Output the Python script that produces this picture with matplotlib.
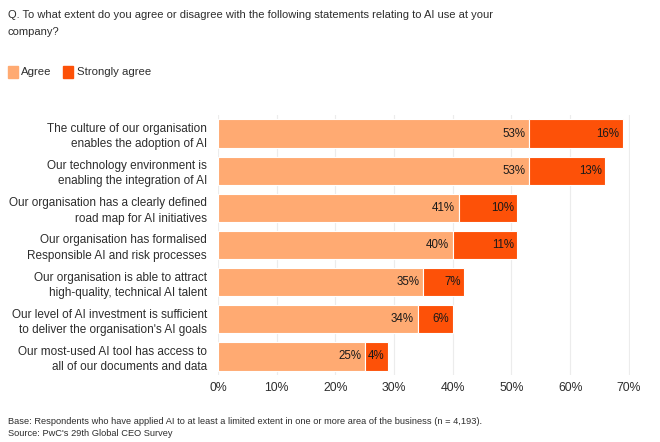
import matplotlib
matplotlib.use("Agg")
import matplotlib.pyplot as plt
from matplotlib.patches import Rectangle

plt.rcParams['font.family'] = ['Liberation Sans', 'DejaVu Sans']

# datos de la encuesta
statements = [
    "The culture of our organisation\nenables the adoption of AI",
    "Our technology environment is\nenabling the integration of AI",
    "Our organisation has a clearly defined\nroad map for AI initiatives",
    "Our organisation has formalised\nResponsible AI and risk processes",
    "Our organisation is able to attract\nhigh-quality, technical AI talent",
    "Our level of AI investment is sufficient\nto deliver the organisation's AI goals",
    "Our most-used AI tool has access to\nall of our documents and data",
]
agree = [53, 53, 41, 40, 35, 34, 25]
strongly_agree = [16, 13, 10, 11, 7, 6, 4]
x_ticks = [0, 10, 20, 30, 40, 50, 60, 70]

c_agree = "#FFAA72"
c_strong = "#FD5108"
txt = "#2d2d2d"

fig = plt.figure(figsize=(6.6, 4.42), dpi=100)
W, H = 660, 442

ax = fig.add_axes([218 / W, 1 - 375 / H, 412 / W, 260 / H])
y = list(range(len(statements)))

ax.barh(y, agree, height=0.76, color=c_agree, edgecolor="white", linewidth=0.8, zorder=2)
ax.barh(y, strongly_agree, left=agree, height=0.76, color=c_strong,
        edgecolor="white", linewidth=0.8, zorder=2)

for i in y:
    a, s = agree[i], strongly_agree[i]
    ax.text(a - 0.6, i, f"{a}%", ha="right", va="center", fontsize=8.3, color="#1a1a1a", zorder=3)
    ax.text(a + s - 0.6, i, f"{s}%", ha="right", va="center", fontsize=8.3, color="#1a1a1a", zorder=3)

ax.set_xlim(0, 70.2)
ax.set_ylim(6.5, -0.5)
ax.set_xticks(x_ticks)
ax.set_xticklabels([f"{t}%" for t in x_ticks], fontsize=8.8, color=txt)
ax.set_yticks(y)
ax.set_yticklabels(statements, fontsize=8.5, color=txt, linespacing=1.35)
ax.tick_params(length=0, axis="x", pad=5)
ax.tick_params(length=0, axis="y", pad=8)
ax.grid(axis="x", color="#ececec", linewidth=0.8, zorder=0)
for sp in ax.spines.values():
    sp.set_visible(False)

# título
fig.text(8 / W, 1 - 15 / H, "Q. To what extent do you agree or disagree with the following statements relating to AI use at your",
         fontsize=8, color=txt, va="center")
fig.text(8 / W, 1 - 32 / H, "company?", fontsize=8, color=txt, va="center")

# leyenda
fig.patches.append(Rectangle((8 / W, 1 - 78 / H), 10 / W, 12 / H, transform=fig.transFigure,
                             color=c_agree))
fig.text(21 / W, 1 - 72 / H, "Agree", fontsize=8.2, color=txt, va="center")
fig.patches.append(Rectangle((63 / W, 1 - 78 / H), 10 / W, 12 / H, transform=fig.transFigure,
                             color=c_strong))
fig.text(77 / W, 1 - 72 / H, "Strongly agree", fontsize=8.2, color=txt, va="center")

# notas
fig.text(8 / W, 1 - 421 / H,
         "Base: Respondents who have applied AI to at least a limited extent in one or more area of the business (n = 4,193).",
         fontsize=6.7, color=txt, va="center")
fig.text(8 / W, 1 - 433 / H, "Source: PwC's 29th Global CEO Survey", fontsize=6.7, color=txt, va="center")

fig.savefig("out.png", dpi=100)
